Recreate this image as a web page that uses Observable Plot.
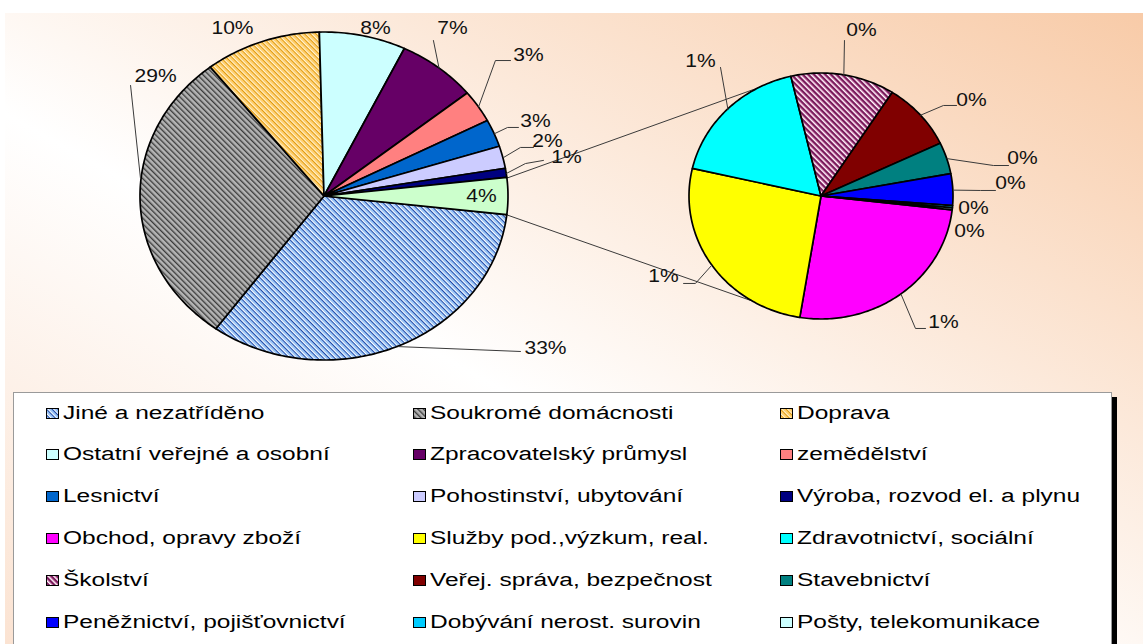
<!DOCTYPE html>
<html>
<head>
<meta charset="utf-8">
<script src="https://cdn.jsdelivr.net/npm/d3@7"></script>
<script src="https://cdn.jsdelivr.net/npm/@observablehq/plot@0.6"></script>
<style>
html,body{margin:0;padding:0;background:#fff;}
#wrap{position:relative;width:1143px;height:644px;overflow:hidden;font-family:"Liberation Sans",Arial,sans-serif;}
#bg{position:absolute;left:5px;top:13px;right:0;bottom:0;background:linear-gradient(to top right,#FBE3D2 0%,#FFFFFF 42%,#F8CBA8 100%);}
#chart{position:relative;}
#chart svg{display:block;}
#legend{position:relative;margin-left:13px;width:1097px;height:260px;background:#fff;border:1px solid #9a9a9a;box-shadow:5px 5px 0 #000;}
.item{position:absolute;height:20px;display:flex;align-items:center;white-space:nowrap;}
.lab{font-size:18px;color:#000;display:inline-block;transform:scaleX(1.36);transform-origin:0 50%;}
</style>
</head>
<body>
<svg width="0" height="0" style="position:absolute">
  <defs>
    <pattern id="pJine" patternUnits="userSpaceOnUse" width="4" height="4" patternTransform="rotate(-45)">
      <rect width="4" height="4" fill="#ffffff"/>
      <rect x="1" width="2" height="4" fill="#9cc6f6"/>
      <rect x="3" width="1" height="4" fill="#1f4aa8"/>
    </pattern>
    <pattern id="pSouk" patternUnits="userSpaceOnUse" width="4" height="4" patternTransform="rotate(-45)">
      <rect width="4" height="4" fill="#b4b4b4"/>
      <rect x="2" width="1" height="4" fill="#3c3c3c"/>
      <rect x="3" width="1" height="4" fill="#8a8a8a"/>
    </pattern>
    <pattern id="pDopr" patternUnits="userSpaceOnUse" width="4" height="4" patternTransform="rotate(-45)">
      <rect width="4" height="4" fill="#fff4d8"/>
      <rect x="1" width="2" height="4" fill="#ffd070"/>
      <rect x="3" width="1" height="4" fill="#e09a10"/>
    </pattern>
    <pattern id="pSkol" patternUnits="userSpaceOnUse" width="4" height="4" patternTransform="rotate(-45)">
      <rect width="4" height="4" fill="#ffffff"/>
      <rect x="1" width="1" height="4" fill="#d68ab8"/>
      <rect x="2" width="2" height="4" fill="#7a1c5c"/>
    </pattern>
  </defs>
</svg>
<div id="wrap">
  <div id="bg"></div>
  <div id="chart"></div>
  <div id="legend"></div>
</div>
<script>
// ---------- data ----------
const mainNames = ["Jiné a nezatříděno","Soukromé domácnosti","Doprava","Ostatní veřejné a osobní","Zpracovatelský průmysl","zemědělství","Lesnictví","Pohostinství, ubytování","Výroba, rozvod el. a plynu"];
const mainValues = [33.2, 29.4, 10.2, 7.6, 7.0, 3.2, 2.7, 2.2, 0.9];
const otherNames = ["Obchod, opravy zboží","Služby pod.,výzkum, real.","Zdravotnictví, sociální","Školství","Veřej. správa, bezpečnost","Stavebnictví","Peněžnictví, pojišťovnictví","Dobývání nerost. surovin","Pošty, telekomunikace"];
const otherValues = [0.93, 0.94, 0.64, 0.46, 0.32, 0.15, 0.15, 0.01, 0.01];
const otherKey = "Ostatní (součet)";

// ---------- styles ----------
const mainFills = ["url(#pJine)","url(#pSouk)","url(#pDopr)","#CCFFFF","#660066","#FF8080","#0066CC","#CCCCFF","#000080"];
const otherSliceFill = "#CCFFCC";
const otherFills = ["#FF00FF","#FFFF00","#00FFFF","url(#pSkol)","#800000","#008080","#0000FF","#00CCFF","#CCFFFF"];

// ---------- layout ----------
const W = 1143, H = 392;
const mainPie = {cx: 324, cy: 196, rx: 184, ry: 164};
const secPie = {cx: 821, cy: 196, rx: 132, ry: 123, startDeg: 96.5};
const connectorDeg = [334.4, 212.1]; // where the joining lines touch the secondary pie
// label positions in pie-normalised units; lead = extra leader points after the arc point
const mainLabelLayout = [
  {at:[1.201,0.927], lead:[[1.065,0.945]]},
  {at:[-0.918,-0.732], from:[-1.0,-0.11], lead:[[-1.054,-0.677]]},
  {at:[-0.5,-1.024]},
  {at:[0.277,-1.024]},
  {at:[0.696,-1.024], lead:[[0.592,-0.951]]},
  {at:[1.109,-0.86], lead:[[0.929,-0.829],[1.011,-0.829]]},
  {at:[1.147,-0.457], lead:[[0.995,-0.421],[1.054,-0.421]]},
  {at:[1.212,-0.335], lead:[[1.065,-0.299],[1.136,-0.299]]},
  {at:[1.315,-0.24], lead:[[1.092,-0.201],[1.19,-0.22]]},
  {at:[0.853,0.0]}
];
const secLabelLayout = [
  {at:[0.924,1.024], lead:[[0.712,1.073],[0.788,1.073]]},
  {at:[-1.197,0.65], lead:[[-0.955,0.707],[-1.045,0.707]]},
  {at:[-0.917,-1.098], lead:[[-0.765,-1.049]]},
  {at:[0.303,-1.35], lead:[[0.174,-1.268]]},
  {at:[1.136,-0.78], lead:[[0.924,-0.74],[1.023,-0.74]]},
  {at:[1.523,-0.309], lead:[[1.303,-0.252],[1.417,-0.252]]},
  {at:[1.432,-0.106], lead:[[1.205,-0.049],[1.318,-0.049]]},
  {at:[1.152,0.098]},
  {at:[1.121,0.285]}
];

// ---------- geometry ----------
const rad = d => d * Math.PI / 180;
const total = d3.sum(mainValues) + d3.sum(otherValues);
const otherSum = d3.sum(otherValues);
const otherAngle = 2 * Math.PI * otherSum / total;
const mainStart = Math.PI / 2 + otherAngle / 2; // Excel centres the "other" slice on the right
const mainKeys = mainNames.concat([otherKey]);
const mainVals = mainValues.concat([otherSum]);
const mainArcs = d3.pie().sort(null).startAngle(mainStart).endAngle(mainStart + 2*Math.PI)(mainVals);
const secArcs = d3.pie().sort(null).startAngle(rad(secPie.startDeg)).endAngle(rad(secPie.startDeg) + 2*Math.PI)(otherValues);

const pt = (p, t, k = 1) => ({x: p.cx + k * p.rx * Math.sin(t), y: p.cy - k * p.ry * Math.cos(t)});
const np = (p, n) => ({x: p.cx + n[0] * p.rx, y: p.cy + n[1] * p.ry});

function wedgeRows(arcs, keys, p) {
  const rows = [];
  arcs.forEach((a, i) => {
    const n = Math.max(2, Math.ceil((a.endAngle - a.startAngle) / rad(1)));
    for (let k = 0; k <= n; k++) {
      const t = a.startAngle + (a.endAngle - a.startAngle) * k / n;
      const q = pt(p, t);
      rows.push({key: keys[i], x1: p.cx, y1: p.cy, x2: q.x, y2: q.y});
    }
  });
  return rows;
}
const wedges = wedgeRows(mainArcs, mainKeys, mainPie).concat(wedgeRows(secArcs, otherNames, secPie));

const pct = v => Math.round(v / total * 100) + "%";
const labels = [], leaders = [];
function addLabels(arcs, keys, vals, p, layout) {
  arcs.forEach((a, i) => {
    const L = layout[i];
    const c = np(p, L.at);
    labels.push({key: keys[i], x: c.x, y: c.y, text: pct(vals[i])});
    if (L.lead) {
      const m = L.from ? np(p, L.from) : pt(p, (a.startAngle + a.endAngle) / 2);
      leaders.push({key: keys[i], x: m.x, y: m.y});
      L.lead.forEach(n => { const q = np(p, n); leaders.push({key: keys[i], x: q.x, y: q.y}); });
    }
  });
}
addLabels(mainArcs, mainKeys, mainVals, mainPie, mainLabelLayout);
addLabels(secArcs, otherNames, otherValues, secPie, secLabelLayout);

const oa = mainArcs[mainArcs.length - 1];
const cTop = pt(mainPie, oa.startAngle), cBot = pt(mainPie, oa.endAngle);
const sTop = pt(secPie, rad(connectorDeg[0])), sBot = pt(secPie, rad(connectorDeg[1]));
const connectors = [
  {x1: cTop.x, y1: cTop.y, x2: sTop.x, y2: sTop.y},
  {x1: cBot.x, y1: cBot.y, x2: sBot.x, y2: sBot.y}
];

const colorDomain = mainKeys.concat(otherNames);
const colorRange = mainFills.concat([otherSliceFill]).concat(otherFills);

const svg = Plot.plot({
  width: W, height: H, margin: 0,
  style: {background: "none", fontFamily: "'Liberation Sans', Arial, sans-serif", overflow: "visible"},
  x: {domain: [0, W], range: [0, W], axis: null},
  y: {domain: [0, H], range: [0, H], axis: null},
  color: {domain: colorDomain, range: colorRange},
  marks: [
    Plot.link(connectors, {x1: "x1", y1: "y1", x2: "x2", y2: "y2", stroke: "#3a3a3a", strokeWidth: 1}),
    Plot.area(wedges, {x1: "x1", y1: "y1", x2: "x2", y2: "y2", z: "key", fill: "key", stroke: "#000", strokeWidth: 1.7, strokeLinejoin: "round"}),
    Plot.line(leaders, {x: "x", y: "y", z: "key", stroke: "#3a3a3a", strokeWidth: 1}),
    Plot.text(labels, {x: "x", y: "y", text: "text", fontSize: 18, fill: "#111"})
  ]
});
document.getElementById("chart").appendChild(svg);
// widen label glyphs like the reference (scale about each label's own centre)
svg.querySelectorAll("text").forEach(t => {
  try {
    const b = t.getBBox();
    const cx = b.x + b.width / 2;
    const tr = t.getAttribute("transform") || "";
    t.setAttribute("transform", `${tr} translate(${cx},0) scale(1.17,1) translate(${-cx},0)`);
  } catch (e) {}
});

// ---------- legend ----------
const legNames = mainNames.concat(otherNames);
const legFills = mainFills.concat(otherFills);
const leg = document.getElementById("legend");
legNames.forEach((name, i) => {
  const col = i % 3, row = Math.floor(i / 3);
  const d = document.createElement("div");
  d.className = "item";
  d.style.left = (32 + col * 367) + "px";
  d.style.top = (10 + row * 41.8) + "px";
  const k = document.createElementNS("http://www.w3.org/2000/svg", "svg");
  k.setAttribute("width", 13); k.setAttribute("height", 11);
  k.style.marginRight = "4px";
  k.innerHTML = `<rect x="0.5" y="0.5" width="12" height="10" fill="${legFills[i]}" stroke="#000" stroke-width="1"/>`;
  const s = document.createElement("span");
  s.className = "lab"; s.textContent = name;
  d.appendChild(k); d.appendChild(s);
  leg.appendChild(d);
});
</script>
</body>
</html>
